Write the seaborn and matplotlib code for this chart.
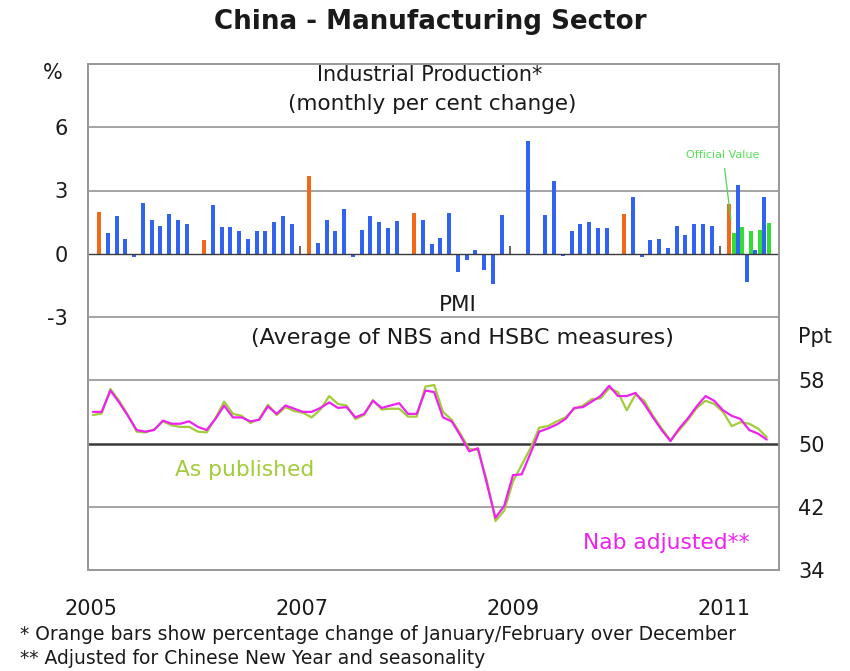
import numpy as np
import pandas as pd
import matplotlib
matplotlib.use("Agg")
import matplotlib.pyplot as plt
import seaborn as sns

# Industrial production, monthly % change, Jan 2005 .. May 2011 (NaN = not shown)
ip_change = [
    2.0, 1.0, 1.8, 0.7, -0.15, 2.4, 1.6, 1.3, 1.9, 1.6, 1.4, np.nan,          # 2005
    0.65, 2.3, 1.25, 1.25, 1.1, 0.7, 1.1, 1.1, 1.5, 1.8, 1.4, 0.35,           # 2006
    3.7, 0.5, 1.6, 1.08, 2.1, -0.15, 1.15, 1.8, 1.5, 1.2, 1.55, np.nan,       # 2007
    1.95, 1.6, 0.45, 0.75, 1.95, -0.87, -0.3, 0.19, -0.76, -1.43, 1.86, 0.35, # 2008
    np.nan, 5.35, -0.08, 1.86, 3.43, -0.13, 1.08, 1.42, 1.5, 1.23, 1.23, np.nan,  # 2009
    1.87, 2.68, -0.16, 0.67, 0.69, 0.29, 1.31, 0.91, 1.42, 1.39, 1.32, 0.35,  # 2010
    2.34, 3.27, -1.36, 0.19, 2.7,                                            # 2011
]
# bar kind: J = Jan/Feb over December, D = December (small marker), M = regular month
ip_kind = (
    "JMMMMMMMMMMM"
    "JMMMMMMMMMMD"
    "JMMMMMMMMMMM"
    "JMMMMMMMMMMD"
    "MMMMMMMMMMMM"
    "JMMMMMMMMMMD"
    "JMMMM"
)
# Official (published) values for 2011
official_idx = [72, 73, 74, 75, 76]
official_val = [1.0, 1.25, 1.08, 1.12, 1.48]

# PMI, average of NBS and HSBC measures, Jan 2005 .. Jun 2011
pmi_nab = [
    54.0, 54.0, 56.7, 55.2, 53.5, 51.7, 51.5, 51.7, 52.9, 52.5, 52.5, 52.8,
    52.1, 51.7, 53.1, 54.8, 53.3, 53.3, 52.8, 53.0, 54.7, 53.75, 54.8, 54.4,
    54.0, 54.0, 54.5, 55.2, 54.5, 54.6, 53.3, 53.75, 55.4, 54.5, 54.8, 55.1,
    53.75, 53.75, 56.7, 56.5, 53.3, 52.8, 51.0, 49.0, 49.4, 45.0, 40.6, 42.1,
    46.0, 46.1, 48.75, 51.5, 51.9, 52.4, 53.1, 54.5, 54.6, 55.3, 56.0, 57.3,
    56.0, 56.0, 56.4, 55.0, 53.3, 51.7, 50.3, 51.9, 53.2, 54.7, 56.0, 55.4,
    54.2, 53.5, 53.1, 51.7, 51.25, 50.5,
]
pmi_published = [
    53.6, 53.8, 56.9, 55.4, 53.6, 51.5, 51.4, 51.8, 52.8, 52.3, 52.1, 52.1,
    51.5, 51.4, 53.2, 55.3, 53.75, 53.5, 52.6, 53.1, 54.9, 53.6, 54.6, 54.1,
    53.9, 53.3, 54.3, 56.0, 55.0, 54.8, 53.1, 53.6, 55.5, 54.3, 54.4, 54.4,
    53.4, 53.4, 57.2, 57.4, 54.0, 53.0, 51.2, 49.3, 49.2, 45.4, 40.2, 41.5,
    45.2, 47.3, 49.4, 52.0, 52.2, 52.8, 53.3, 54.4, 54.8, 55.6, 55.7, 57.0,
    56.5, 54.2, 56.2, 55.4, 53.5, 51.9, 50.4, 51.7, 53.0, 54.5, 55.4, 55.0,
    54.0, 52.2, 52.7, 52.5, 51.9, 50.8,
]

year_labels = ["2005", "2007", "2009", "2011"]

# ---------------------------------------------------------------- styling
sns.set_theme(style="white")
plt.rcParams["font.family"] = ["DejaVu Sans"]
plt.rcParams["text.color"] = "#1a1a1a"

BLUE = "#3263f0"
ORANGE = "#f06818"
GREEN_BAR = "#33dd33"
DEC_GRAY = "#666666"
MAGENTA = "#ee22ee"
LIME = "#a2cc3a"
GRID = "#8c8c8c"
DARK = "#3a3a3a"
FS = 15

fig = plt.figure(figsize=(8.5, 6.71), dpi=100)
ax = fig.add_axes([88 / 850, 1 - 570 / 671, (779 - 88) / 850, (570 - 64) / 671])
ax2 = ax.twinx()

# ---------------------------------------------------------------- bars
bars = pd.DataFrame({"idx": np.arange(len(ip_change)), "value": ip_change,
                     "kind": list(ip_kind)}).dropna()
colour_of = {"M": BLUE, "J": ORANGE, "D": DEC_GRAY}
width_of = {"M": 0.46, "J": 0.46, "D": 0.2}
for kind, grp in bars.groupby("kind"):
    ax.bar(grp["idx"], grp["value"], width=width_of[kind],
           color=colour_of[kind], linewidth=0, zorder=3)
ax.bar(np.array(official_idx) + 0.52, official_val, width=0.46,
       color=GREEN_BAR, linewidth=0, zorder=3)

ax.annotate("Official Value", xy=(72.2, 1.6), xytext=(71.3, 4.7),
            fontsize=8, color="#55e055", ha="center", va="center",
            arrowprops=dict(arrowstyle="-", color="#55d055", lw=0.9,
                            shrinkA=4, shrinkB=0))

# ---------------------------------------------------------------- PMI lines
pmi = pd.DataFrame({"pos": np.arange(len(pmi_nab)) - 0.7,
                    "nab": pmi_nab, "published": pmi_published})
sns.lineplot(data=pmi, x="pos", y="published", ax=ax2, color=LIME, lw=1.6,
             zorder=3)
sns.lineplot(data=pmi, x="pos", y="nab", ax=ax2, color=MAGENTA, lw=1.6,
             zorder=4)

# ---------------------------------------------------------------- axes
ax.set_xlim(-1.26, 77.7)
ax.set_ylim(-15, 9)
ax2.set_ylim(34, 98)

for v in (6, 3, -3):
    ax.axhline(v, color=GRID, lw=1.1, zorder=1)
ax.axhline(0, color=DARK, lw=1.0, zorder=4)
for v in (58, 42):
    ax2.axhline(v, color=GRID, lw=1.1, zorder=1)
ax2.axhline(50, color=DARK, lw=1.8, zorder=2)

ax.set_yticks([-3, 0, 3, 6])
ax.set_yticklabels(["-3", "0", "3", "6"])
ax2.set_yticks([34, 42, 50, 58])
ax.set_xticks([-0.9, 23.2, 47.3, 71.4])
ax.set_xticklabels(year_labels)

ax.tick_params(axis="y", length=0, pad=14.5, labelsize=FS, labelcolor="#1a1a1a")
ax.tick_params(axis="x", length=0, pad=21, labelsize=FS, labelcolor="#1a1a1a")
ax2.tick_params(axis="y", length=0, pad=14, labelsize=FS, labelcolor="#1a1a1a")
ax.set_xlabel("")
ax.set_ylabel("")
ax2.set_xlabel("")
ax2.set_ylabel("")

for a in (ax, ax2):
    for s in a.spines.values():
        s.set_color("#999999")
        s.set_linewidth(1.3)

# ---------------------------------------------------------------- text
fig.text(0.506, 0.967, "China - Manufacturing Sector", ha="center",
         va="center", fontsize=18.8, fontweight="bold")
fig.text(0.062, 0.891, "%", ha="center", va="center", fontsize=FS)
fig.text(0.959, 0.498, "Ppt", ha="center", va="center", fontsize=FS)
fig.text(0.506, 0.888, "Industrial Production*", ha="center", va="center",
         fontsize=FS)
fig.text(0.508, 0.845, "(monthly per cent change)", ha="center", va="center",
         fontsize=15.5)
fig.text(0.539, 0.545, "PMI", ha="center", va="center", fontsize=15.5)
fig.text(0.544, 0.496, "(Average of NBS and HSBC measures)", ha="center",
         va="center", fontsize=16)
fig.text(0.288, 0.300, "As published", ha="center", va="center",
         fontsize=15.7, color=LIME)
fig.text(0.784, 0.191, "Nab adjusted**", ha="center", va="center",
         fontsize=15.7, color=MAGENTA)
fig.text(0.0235, 0.054,
         "* Orange bars show percentage change of January/February over December",
         ha="left", va="center", fontsize=13.5)
fig.text(0.0235, 0.019, "** Adjusted for Chinese New Year and seasonality",
         ha="left", va="center", fontsize=13.5)

fig.savefig("out.png", dpi=100, facecolor="white")
